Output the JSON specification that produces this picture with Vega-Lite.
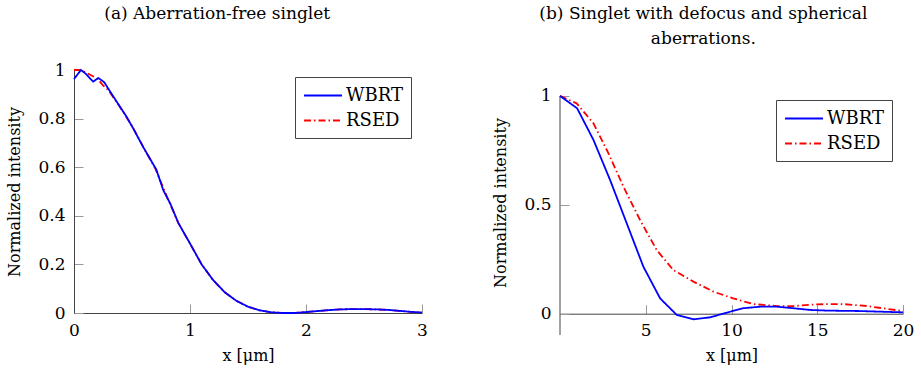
{
  "$schema": "https://vega.github.io/schema/vega-lite/v6.json",
  "padding": {"left": 6, "top": 5, "right": 5, "bottom": 5},
  "background": "white",
  "config": {
    "font": "DejaVu Serif",
    "view": {"stroke": null},
    "axis": {
      "labelFont": "DejaVu Serif", "labelFontSize": 17, "labelColor": "#000", "format": "~g",
      "titleFont": "DejaVu Serif", "titleFontSize": 16, "titleFontWeight": "normal", "titleColor": "#000",
      "domainColor": "#444", "tickColor": "#999", "tickSize": -9, "grid": false, "labelPadding": 18
    },
    "axisY": {"titlePadding": 15},
    "axisX": {"titlePadding": 9},
    "legend": {
      "labelFont": "DejaVu Serif", "labelFontSize": 18, "labelColor": "#000",
      "strokeColor": "#444", "fillColor": "white", "padding": 8, "cornerRadius": 0,
      "symbolType": "M-1,0L3,0", "symbolSize": 361, "symbolStrokeWidth": 2, "rowPadding": 5, "labelOffset": 22
    },
    "title": {"font": "DejaVu Serif", "fontSize": 17, "fontWeight": "normal", "color": "#000", "anchor": "middle", "frame": "bounds"}
  },
  "datasets": {
    "a": [
      {"series": "WBRT", "x": 0.0, "y": 0.963},
      {"series": "WBRT", "x": 0.06, "y": 1.0},
      {"series": "WBRT", "x": 0.1, "y": 0.985},
      {"series": "WBRT", "x": 0.165, "y": 0.952},
      {"series": "WBRT", "x": 0.21, "y": 0.967},
      {"series": "WBRT", "x": 0.26, "y": 0.95},
      {"series": "WBRT", "x": 0.34, "y": 0.89},
      {"series": "WBRT", "x": 0.45, "y": 0.81},
      {"series": "WBRT", "x": 0.51, "y": 0.76},
      {"series": "WBRT", "x": 0.6, "y": 0.68},
      {"series": "WBRT", "x": 0.71, "y": 0.59},
      {"series": "WBRT", "x": 0.77, "y": 0.505},
      {"series": "WBRT", "x": 0.83, "y": 0.45},
      {"series": "WBRT", "x": 0.9, "y": 0.37},
      {"series": "WBRT", "x": 1.0, "y": 0.286},
      {"series": "WBRT", "x": 1.1, "y": 0.2},
      {"series": "WBRT", "x": 1.2, "y": 0.135},
      {"series": "WBRT", "x": 1.3, "y": 0.085},
      {"series": "WBRT", "x": 1.4, "y": 0.05},
      {"series": "WBRT", "x": 1.5, "y": 0.026},
      {"series": "WBRT", "x": 1.6, "y": 0.011},
      {"series": "WBRT", "x": 1.7, "y": 0.003},
      {"series": "WBRT", "x": 1.8, "y": 0.0},
      {"series": "WBRT", "x": 1.9, "y": 0.0},
      {"series": "WBRT", "x": 2.0, "y": 0.004},
      {"series": "WBRT", "x": 2.1, "y": 0.008},
      {"series": "WBRT", "x": 2.2, "y": 0.012},
      {"series": "WBRT", "x": 2.3, "y": 0.015},
      {"series": "WBRT", "x": 2.4, "y": 0.016},
      {"series": "WBRT", "x": 2.5, "y": 0.016},
      {"series": "WBRT", "x": 2.6, "y": 0.015},
      {"series": "WBRT", "x": 2.7, "y": 0.013},
      {"series": "WBRT", "x": 2.8, "y": 0.009},
      {"series": "WBRT", "x": 2.9, "y": 0.005},
      {"series": "WBRT", "x": 3.0, "y": 0.002},
      {"series": "RSED", "x": 0.0, "y": 1.0},
      {"series": "RSED", "x": 0.05, "y": 1.0},
      {"series": "RSED", "x": 0.1, "y": 0.99},
      {"series": "RSED", "x": 0.2, "y": 0.965},
      {"series": "RSED", "x": 0.25, "y": 0.937},
      {"series": "RSED", "x": 0.3, "y": 0.915},
      {"series": "RSED", "x": 0.4, "y": 0.845},
      {"series": "RSED", "x": 0.5, "y": 0.77},
      {"series": "RSED", "x": 0.6, "y": 0.68},
      {"series": "RSED", "x": 0.7, "y": 0.595},
      {"series": "RSED", "x": 0.8, "y": 0.48},
      {"series": "RSED", "x": 0.9, "y": 0.37},
      {"series": "RSED", "x": 1.0, "y": 0.286},
      {"series": "RSED", "x": 1.1, "y": 0.2},
      {"series": "RSED", "x": 1.2, "y": 0.135},
      {"series": "RSED", "x": 1.3, "y": 0.085},
      {"series": "RSED", "x": 1.4, "y": 0.05},
      {"series": "RSED", "x": 1.5, "y": 0.026},
      {"series": "RSED", "x": 1.6, "y": 0.011},
      {"series": "RSED", "x": 1.7, "y": 0.003},
      {"series": "RSED", "x": 1.8, "y": 0.0},
      {"series": "RSED", "x": 1.9, "y": 0.0},
      {"series": "RSED", "x": 2.0, "y": 0.004},
      {"series": "RSED", "x": 2.1, "y": 0.008},
      {"series": "RSED", "x": 2.2, "y": 0.012},
      {"series": "RSED", "x": 2.3, "y": 0.015},
      {"series": "RSED", "x": 2.4, "y": 0.016},
      {"series": "RSED", "x": 2.5, "y": 0.016},
      {"series": "RSED", "x": 2.6, "y": 0.015},
      {"series": "RSED", "x": 2.7, "y": 0.013},
      {"series": "RSED", "x": 2.8, "y": 0.009},
      {"series": "RSED", "x": 2.9, "y": 0.005},
      {"series": "RSED", "x": 3.0, "y": 0.002}
    ],
    "b": [
      {"series": "WBRT", "x": 0.0, "y": 1.0},
      {"series": "WBRT", "x": 1.0, "y": 0.943},
      {"series": "WBRT", "x": 1.95, "y": 0.798},
      {"series": "WBRT", "x": 2.92, "y": 0.614},
      {"series": "WBRT", "x": 3.89, "y": 0.415},
      {"series": "WBRT", "x": 4.86, "y": 0.216},
      {"series": "WBRT", "x": 5.84, "y": 0.07},
      {"series": "WBRT", "x": 6.81, "y": -0.006},
      {"series": "WBRT", "x": 7.78, "y": -0.026},
      {"series": "WBRT", "x": 8.75, "y": -0.017},
      {"series": "WBRT", "x": 9.73, "y": 0.005},
      {"series": "WBRT", "x": 10.7, "y": 0.025},
      {"series": "WBRT", "x": 11.67, "y": 0.032},
      {"series": "WBRT", "x": 12.65, "y": 0.032},
      {"series": "WBRT", "x": 13.6, "y": 0.025},
      {"series": "WBRT", "x": 14.6, "y": 0.017},
      {"series": "WBRT", "x": 15.56, "y": 0.014},
      {"series": "WBRT", "x": 17.5, "y": 0.012},
      {"series": "WBRT", "x": 20.0, "y": 0.006},
      {"series": "RSED", "x": 0.0, "y": 1.0},
      {"series": "RSED", "x": 0.97, "y": 0.966},
      {"series": "RSED", "x": 1.95, "y": 0.874},
      {"series": "RSED", "x": 2.82, "y": 0.737},
      {"series": "RSED", "x": 3.7, "y": 0.583},
      {"series": "RSED", "x": 4.67, "y": 0.43},
      {"series": "RSED", "x": 5.64, "y": 0.292},
      {"series": "RSED", "x": 6.61, "y": 0.2},
      {"series": "RSED", "x": 7.78, "y": 0.147},
      {"series": "RSED", "x": 8.95, "y": 0.101},
      {"series": "RSED", "x": 10.1, "y": 0.07},
      {"series": "RSED", "x": 11.28, "y": 0.044},
      {"series": "RSED", "x": 12.65, "y": 0.035},
      {"series": "RSED", "x": 13.6, "y": 0.035},
      {"series": "RSED", "x": 14.98, "y": 0.043},
      {"series": "RSED", "x": 16.5, "y": 0.044},
      {"series": "RSED", "x": 17.9, "y": 0.035},
      {"series": "RSED", "x": 19.26, "y": 0.02},
      {"series": "RSED", "x": 20.0, "y": 0.012}
    ],
    "baxis": [
      {"x": 0, "y": -0.098},
      {"x": 0, "y": 1}
    ]
  },
  "spacing": 64,
  "hconcat": [
    {
      "title": {"text": "(a) Aberration-free singlet", "offset": 38},
      "width": 348, "height": 243,
      "data": {"name": "a"},
      "encoding": {
        "x": {"field": "x", "type": "quantitative", "scale": {"domain": [0, 3], "nice": false},
              "axis": {"title": "x [μm]", "values": [0, 1, 2, 3], "labelFlush": false}},
        "y": {"field": "y", "type": "quantitative", "scale": {"domain": [0, 1], "nice": false},
              "axis": {"title": "Normalized intensity", "values": [0, 0.2, 0.4, 0.6, 0.8, 1], "labelFlush": false}},
        "color": {"field": "series", "type": "nominal",
                  "scale": {"domain": ["WBRT", "RSED"], "range": ["#0000ff", "#ff0000"]},
                  "legend": {"title": null, "orient": "none", "legendX": 221, "legendY": 7}},
        "strokeDash": {"field": "series", "type": "nominal",
                  "scale": {"domain": ["WBRT", "RSED"], "range": [[1, 0], [7, 3, 1.5, 3]]},
                  "legend": {"title": null, "orient": "none", "legendX": 221, "legendY": 7}}
      },
      "layer": [
        {"transform": [{"filter": "datum.series === 'RSED'"}], "mark": {"type": "line", "strokeWidth": 1.8}},
        {"transform": [{"filter": "datum.series === 'WBRT'"}], "mark": {"type": "line", "strokeWidth": 1.8}}
      ]
    },
    {
      "title": {"text": ["(b) Singlet with defocus and spherical", "aberrations."], "offset": 22, "lineHeight": 25},
      "width": 343, "height": 265,
      "encoding": {
        "x": {"field": "x", "type": "quantitative", "scale": {"domain": [0, 20], "nice": false},
              "axis": {"title": "x [μm]", "values": [5, 10, 15, 20], "labelFlush": false, "offset": -21.3}},
        "y": {"field": "y", "type": "quantitative", "scale": {"domain": [-0.098, 1.119], "nice": false, "zero": false},
              "axis": {"title": "Normalized intensity", "values": [0, 0.5, 1], "labelFlush": false, "domain": false}}
      },
      "layer": [
        {
          "data": {"name": "baxis"},
          "mark": {"type": "line", "color": "#444", "strokeWidth": 1}
        },
        {
          "data": {"name": "b"},
          "transform": [{"filter": "datum.series === 'RSED'"}],
          "mark": {"type": "line", "strokeWidth": 1.8},
          "encoding": {
            "color": {"field": "series", "type": "nominal",
                      "scale": {"domain": ["WBRT", "RSED"], "range": ["#0000ff", "#ff0000"]},
                      "legend": {"title": null, "orient": "none", "legendX": 216, "legendY": 30}},
            "strokeDash": {"field": "series", "type": "nominal",
                      "scale": {"domain": ["WBRT", "RSED"], "range": [[1, 0], [7, 3, 1.5, 3]]},
                      "legend": {"title": null, "orient": "none", "legendX": 216, "legendY": 30}}
          }
        },
        {
          "data": {"name": "b"},
          "transform": [{"filter": "datum.series === 'WBRT'"}],
          "mark": {"type": "line", "strokeWidth": 1.8},
          "encoding": {
            "color": {"field": "series", "type": "nominal",
                      "scale": {"domain": ["WBRT", "RSED"], "range": ["#0000ff", "#ff0000"]},
                      "legend": {"title": null, "orient": "none", "legendX": 216, "legendY": 30}},
            "strokeDash": {"field": "series", "type": "nominal",
                      "scale": {"domain": ["WBRT", "RSED"], "range": [[1, 0], [7, 3, 1.5, 3]]},
                      "legend": {"title": null, "orient": "none", "legendX": 216, "legendY": 30}}
          }
        }
      ]
    }
  ],
  "resolve": {
    "scale": {"color": "independent", "strokeDash": "independent"},
    "legend": {"color": "independent", "strokeDash": "independent"}
  }
}
